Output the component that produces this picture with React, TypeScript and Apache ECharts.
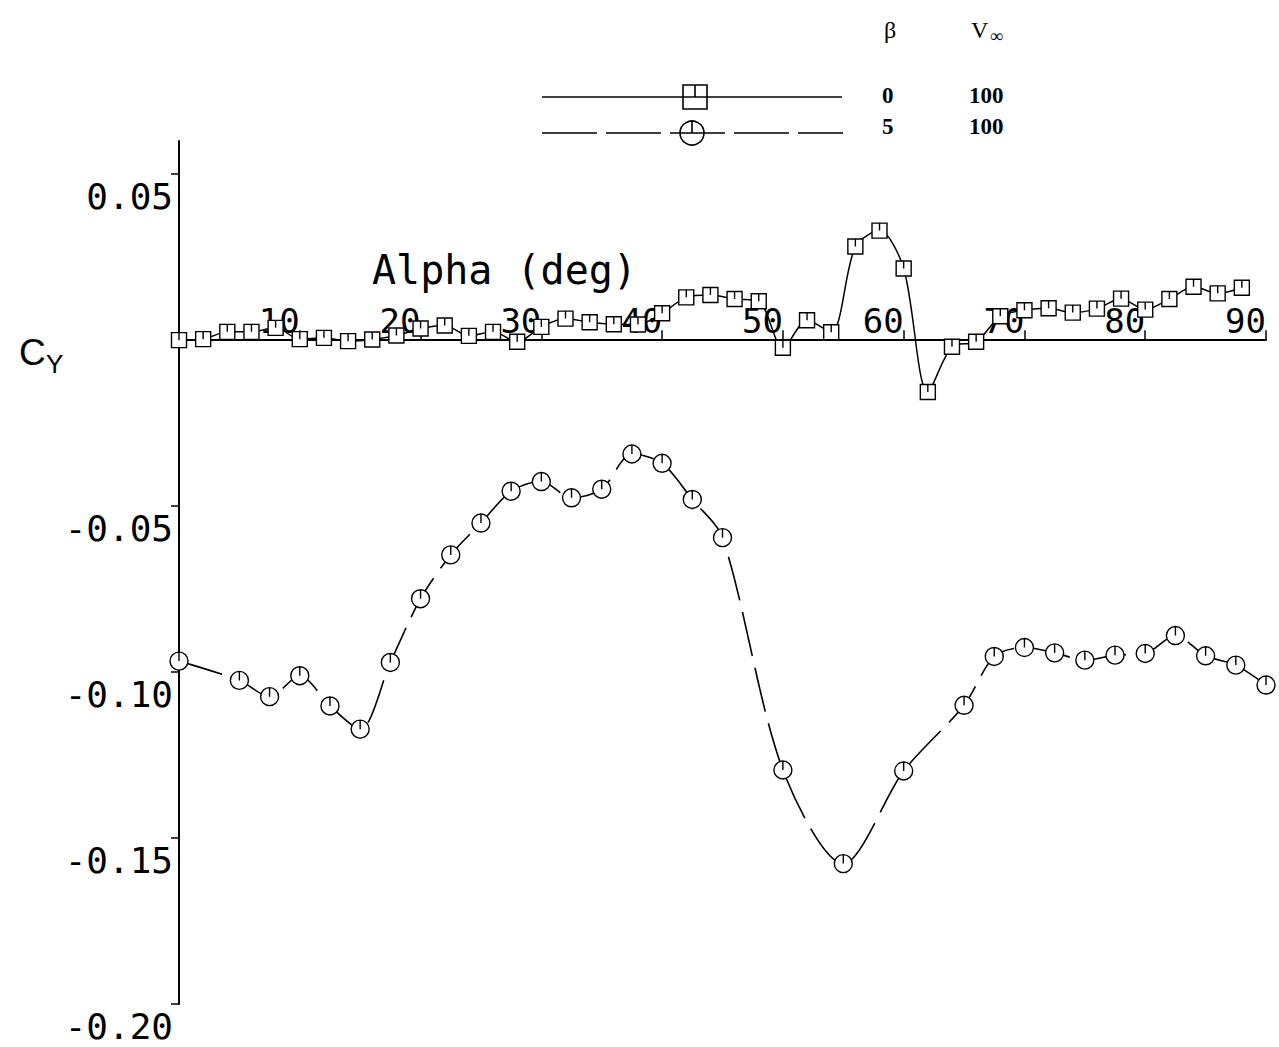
import { useEffect, useRef } from "react";
import * as echarts from "echarts";

// beta = 0, V = 100 (squares, solid line)
const alphaBeta0 = [0, 2, 4, 6, 8, 10, 12, 14, 16, 18, 20, 22, 24, 26, 28, 30, 32, 34, 36, 38, 40, 42, 44, 46, 48, 50, 52, 54, 56, 58, 60, 62, 64, 66, 68, 70, 72, 74, 76, 78, 80, 82, 84, 86, 88];
const cyBeta0 = [0.0, 0.0003, 0.0025, 0.0025, 0.0037, 0.0003, 0.0007, -0.0003, 0.0002, 0.0014, 0.0035, 0.0044, 0.0013, 0.0025, -0.0005, 0.004, 0.0065, 0.0054, 0.0048, 0.0047, 0.0081, 0.0129, 0.0136, 0.0124, 0.0117, -0.0023, 0.006, 0.0024, 0.0282, 0.033, 0.0216, -0.0156, -0.002, -0.0005, 0.0072, 0.009, 0.0096, 0.0083, 0.0095, 0.0125, 0.0092, 0.0124, 0.0161, 0.0141, 0.0158];

// beta = 5, V = 100 (circles, dashed line)
const alphaBeta5 = [0, 5, 7.5, 10, 12.5, 15, 17.5, 20, 22.5, 25, 27.5, 30, 32.5, 35, 37.5, 40, 42.5, 45, 50, 55, 60, 65, 67.5, 70, 72.5, 75, 77.5, 80, 82.5, 85, 87.5, 90];
const cyBeta5 = [-0.0967, -0.1025, -0.1074, -0.1011, -0.1102, -0.1172, -0.0971, -0.0779, -0.0647, -0.0551, -0.0455, -0.0426, -0.0475, -0.0449, -0.0343, -0.0371, -0.048, -0.0595, -0.1295, -0.1577, -0.1298, -0.11, -0.0953, -0.0926, -0.0942, -0.0964, -0.0949, -0.0944, -0.089, -0.0951, -0.0979, -0.1039];

const xTickValues = [10, 20, 30, 40, 50, 60, 70, 80, 90];
const yTickValues = [-0.2, -0.15, -0.1, -0.05, 0.05];
const yMin = -0.2;
const yMax = 0.06;

const legendBeta = ["0", "5"];
const legendV = ["100", "100"];

const SQ_PATH = "path://M0,0L20,0L20,20L0,20Z M10,0L10,10";
const CIRC_PATH = "path://M20,10A10,10,0,1,1,0,10A10,10,0,1,1,20,10Z M10,0L10,10";

export default function App() {
  const ref = useRef<HTMLDivElement>(null);
  useEffect(() => {
    if (!ref.current) return;
    const chart = echarts.init(ref.current, undefined, { renderer: "svg" });
    const mono = "DejaVu Sans Mono";
    const serif = "Liberation Serif";
    const black = "#000";
    const rowY = [96, 127];
    const gridTop = 141;
    const gridBottom = 43;
    const gridHeight = 1047 - gridTop - gridBottom;
    // lift the x axis (line, ticks, labels) from the grid bottom up to y = 0
    const xOffset = -((0 - yMin) / (yMax - yMin)) * gridHeight;
    chart.setOption({
      animation: false,
      backgroundColor: "#fff",
      grid: { left: 179, right: 13, top: gridTop, bottom: gridBottom, containLabel: false },
      xAxis: {
        type: "value",
        min: 0,
        max: 90,
        position: "bottom",
        offset: xOffset,
        splitLine: { show: false },
        axisLine: { onZero: false, lineStyle: { color: black, width: 2 } },
        axisTick: { customValues: xTickValues, inside: true, length: 10, lineStyle: { color: black, width: 1.5 } },
        axisLabel: {
          customValues: xTickValues,
          inside: true,
          align: "right",
          verticalAlign: "bottom",
          margin: 2,
          fontFamily: mono,
          fontSize: 34,
          color: black,
        },
      },
      yAxis: {
        type: "value",
        min: yMin,
        max: yMax,
        splitLine: { show: false },
        axisLine: { show: true, onZero: false, lineStyle: { color: black, width: 2 } },
        axisTick: { show: true, customValues: yTickValues, length: 8, lineStyle: { color: black, width: 1.5 } },
        axisLabel: {
          customValues: yTickValues,
          formatter: (v: number) => v.toFixed(2),
          align: "right",
          verticalAlign: "top",
          margin: 6,
          padding: [4, 0, 0, 0],
          fontFamily: mono,
          fontSize: 36,
          color: black,
        },
      },
      series: [
        {
          type: "line",
          data: alphaBeta0.map((a, i) => [a, cyBeta0[i]]),
          smooth: 0.3,
          symbol: SQ_PATH,
          symbolSize: 15,
          showAllSymbol: true,
          lineStyle: { color: black, width: 1.5 },
          itemStyle: { color: "#fff", borderColor: black, borderWidth: 1.4 },
          emphasis: { disabled: true },
          silent: true,
          z: 3,
        },
        {
          type: "line",
          data: alphaBeta5.map((a, i) => [a, cyBeta5[i]]),
          smooth: 0.3,
          symbol: CIRC_PATH,
          symbolSize: 18,
          showAllSymbol: true,
          lineStyle: { color: black, width: 1.6, type: [45, 12] },
          itemStyle: { color: "#fff", borderColor: black, borderWidth: 1.4 },
          emphasis: { disabled: true },
          silent: true,
          z: 3,
        },
      ],
      graphic: [
        // axis titles
        { type: "text", left: 372, top: 250, style: { text: "Alpha (deg)", fontFamily: mono, fontSize: 40, fill: black } },
        { type: "text", left: 19, top: 334, style: { text: "C", fontFamily: "Liberation Sans", fontSize: 37, fill: black } },
        { type: "text", left: 46, top: 351, style: { text: "Y", fontFamily: "Liberation Sans", fontSize: 26, fill: black } },
        // legend lines and markers
        { type: "line", shape: { x1: 542, y1: 97, x2: 842, y2: 97 }, style: { stroke: black, lineWidth: 1.6 } },
        { type: "rect", shape: { x: 683, y: 85, width: 24, height: 24 }, style: { fill: "none", stroke: black, lineWidth: 1.6 } },
        { type: "line", shape: { x1: 695, y1: 85, x2: 695, y2: 97 }, style: { stroke: black, lineWidth: 1.6 } },
        { type: "line", shape: { x1: 542, y1: 133, x2: 843, y2: 133 }, style: { stroke: black, lineWidth: 1.6, lineDash: [55, 9] } },
        { type: "circle", shape: { cx: 692, cy: 133, r: 12 }, style: { fill: "none", stroke: black, lineWidth: 1.6 } },
        { type: "line", shape: { x1: 692, y1: 121, x2: 692, y2: 133 }, style: { stroke: black, lineWidth: 1.6 } },
        // legend header
        { type: "text", left: 884, top: 18, style: { text: "β", fontFamily: serif, fontSize: 24, fill: black } },
        { type: "text", left: 971, top: 18, style: { text: "V", fontFamily: serif, fontSize: 24, fill: black } },
        { type: "text", left: 990, top: 27, style: { text: "∞", fontFamily: serif, fontSize: 18, fill: black } },
        // legend rows
        ...legendBeta.map((b, i) => ({
          type: "text",
          left: 882,
          top: rowY[i] - 12,
          style: { text: b, fontFamily: serif, fontSize: 23, fontWeight: "bold", fill: black },
        })),
        ...legendV.map((v, i) => ({
          type: "text",
          left: 969,
          top: rowY[i] - 12,
          style: { text: v, fontFamily: serif, fontSize: 23, fontWeight: "bold", fill: black },
        })),
      ],
    });
    return () => chart.dispose();
  }, []);
  return (
    <div
      ref={ref}
      style={{ position: "absolute", left: 0, top: 0, width: 1279, height: 1047, background: "#fff" }}
    />
  );
}
